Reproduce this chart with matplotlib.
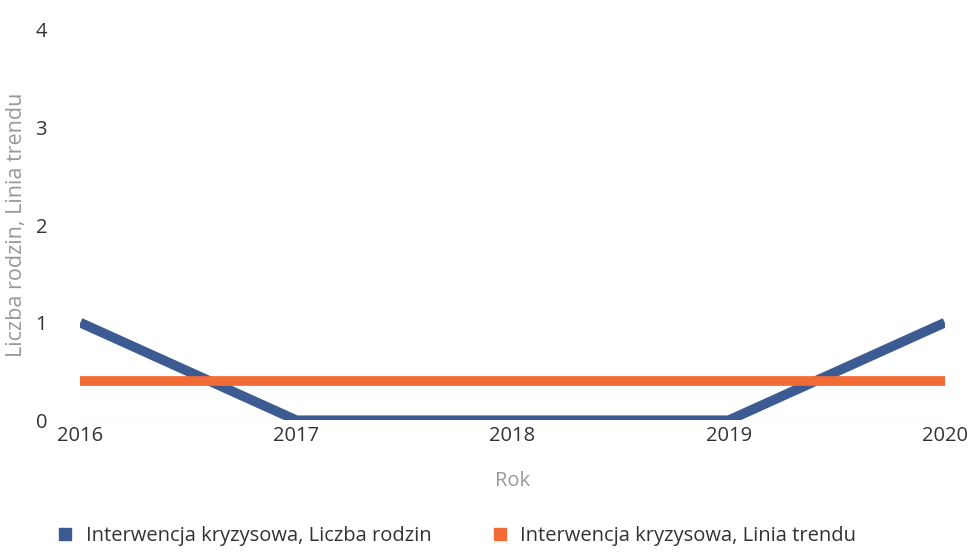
import matplotlib
matplotlib.use("Agg")
import matplotlib.pyplot as plt
from matplotlib.lines import Line2D

# data
years = [2016, 2017, 2018, 2019, 2020]
liczba_rodzin = [1, 0, 0, 0, 1]
linia_trendu = [0.4, 0.4, 0.4, 0.4, 0.4]
y_ticks = [0, 1, 2, 3, 4]

series_names = ["Interwencja kryzysowa, Liczba rodzin",
                "Interwencja kryzysowa, Linia trendu"]
colors = ["#3D5B93", "#F26B34"]

plt.rcParams['font.family'] = ['Open Sans', 'DejaVu Sans']

fig = plt.figure(figsize=(9.68, 5.53), dpi=100)
ax = fig.add_axes([0.083, 0.24, 0.893, 0.706])

ax.plot(years, liczba_rodzin, color=colors[0], linewidth=7, solid_capstyle='butt', zorder=3)
ax.plot(years, linia_trendu, color=colors[1], linewidth=7, solid_capstyle='butt', zorder=4)

ax.set_xlim(years[0], years[-1])
ax.set_ylim(0, 4)
ax.set_xticks(years)
ax.set_xticklabels([str(y) for y in years])
ax.set_yticks(y_ticks)

for s in ax.spines.values():
    s.set_visible(False)
ax.axhline(0, color='#C8C8C8', linewidth=0.8, zorder=1)
ax.tick_params(axis='both', length=0, labelsize=14.5, labelcolor='#333333')
ax.tick_params(axis='y', pad=24)
ax.tick_params(axis='x', pad=4)

ax.set_xlabel("Rok", fontsize=14.5, color='#999999', labelpad=18)
ax.set_ylabel("Liczba rodzin, Linia trendu", fontsize=15.5, color='#999999', labelpad=6)

handles = [Line2D([], [], marker='s', linestyle='none', markersize=9, color=c) for c in colors]
fig.legend(handles, series_names, loc='center left', bbox_to_anchor=(0.028, 0.03),
           ncol=2, frameon=False, fontsize=14.5, handletextpad=0.0, columnspacing=2.4,
           labelcolor='#333333')

fig.savefig("out.png", dpi=100)
